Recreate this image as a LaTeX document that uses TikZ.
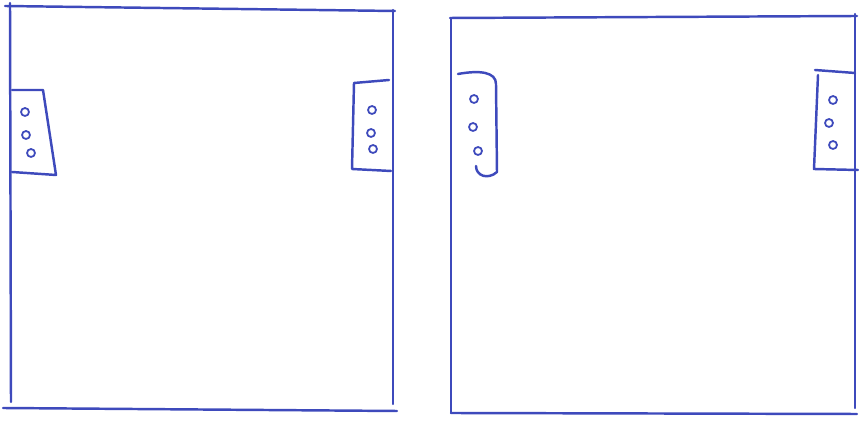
\documentclass[tikz,border=0pt]{standalone}
\definecolor{pen}{RGB}{62,74,188}
\begin{document}
\begin{tikzpicture}[
x=0.02cm, y=-0.02cm,
sketch/.style={draw=pen, line width=1.4pt, line cap=round, line join=round},
hole/.style={
    circle,
    draw=pen,
    line width=1pt,
    minimum size=1.6mm,
    inner sep=0pt
}
]
\useasboundingbox (0,0) rectangle (859,421);

%---------------- Left box ----------------
\begin{scope}
\draw[sketch] (5,6) -- (395,11);
\draw[sketch] (10,3) -- (11,402);
\draw[sketch] (393,10) -- (393,404);
\draw[sketch] (3,408) -- (397,411);

% left tab
\draw[sketch] (12,90) -- (43,90) -- (56,175) -- (12,172);
\node[hole] (la1) at (25,112) {};
\node[hole] (la2) at (26,135) {};
\node[hole] (la3) at (31,153) {};

% right tab
\draw[sketch] (389,80) -- (354,83) -- (352,169) -- (391,171);
\node[hole] (ra1) at (372,110) {};
\node[hole] (ra2) at (371,133) {};
\node[hole] (ra3) at (373,149) {};
\end{scope}

%---------------- Right box ----------------
\begin{scope}
\draw[sketch] (450,18) -- (857,16);
\draw[sketch] (451,18) -- (451,413);
\draw[sketch] (855,14) -- (855,408);
\draw[sketch] (451,413) -- (857,414);

% left tab
\draw[sketch] (458,74) .. controls (480,70) and (496,72) .. (496,84)
    -- (497,172) .. controls (488,180) and (476,176) .. (476,166);
\node[hole] (lb1) at (474,99) {};
\node[hole] (lb2) at (473,127) {};
\node[hole] (lb3) at (478,151) {};

% right tab
\draw[sketch] (815,70) -- (855,73);
\draw[sketch] (818,75) -- (814,169) -- (858,170);
\node[hole] (rb1) at (833,100) {};
\node[hole] (rb2) at (829,123) {};
\node[hole] (rb3) at (833,145) {};
\end{scope}

\end{tikzpicture}
\end{document}
